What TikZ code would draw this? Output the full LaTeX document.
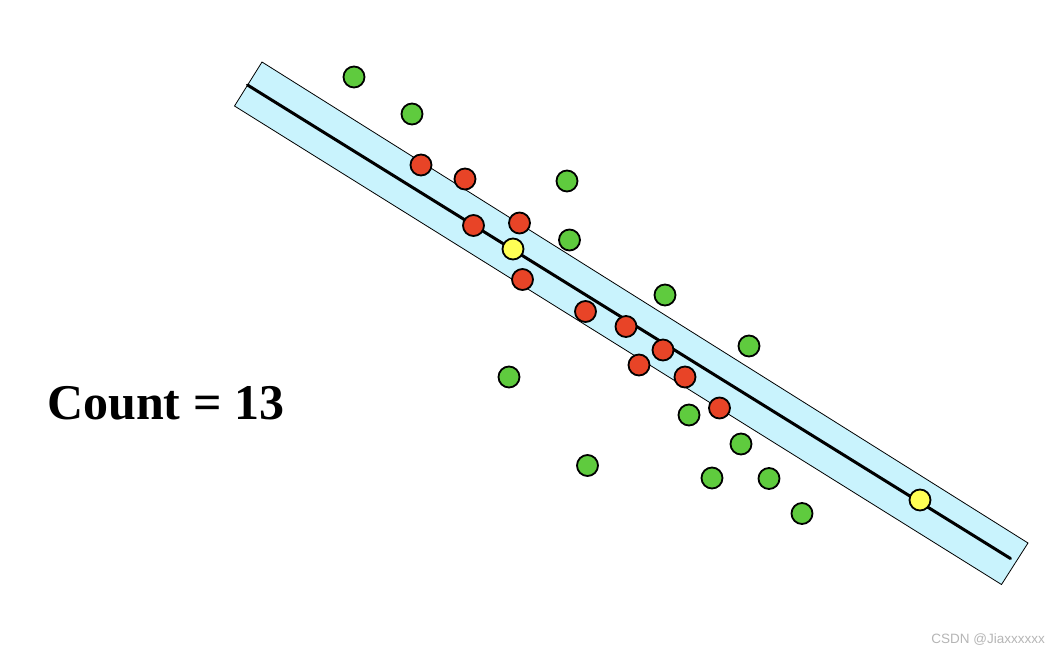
\documentclass[tikz,border=0pt]{standalone}
\usepackage{fontspec}
\setmainfont{Liberation Serif}
\newfontfamily\wmfont{Liberation Sans}
\definecolor{bandblue}{HTML}{C9F3FD}
\definecolor{ptred}{HTML}{E84427}
\definecolor{ptgreen}{HTML}{5FCB3E}
\definecolor{ptyellow}{HTML}{FFFF55}
\definecolor{wmgray}{HTML}{B5B5B5}
\tikzset{
  pt/.style={circle, draw=black, line width=1.8pt, minimum size=21pt, inner sep=0pt},
  gpt/.style={pt, fill=ptgreen},
  rpt/.style={pt, fill=ptred},
  ypt/.style={pt, fill=ptyellow},
}
\begin{document}
\begin{tikzpicture}[x=1pt,y=-1pt]
\useasboundingbox (0,0) rectangle (1060,654);
% band
\coordinate (A) at (262,62);
\coordinate (B) at (234.5,106);
\coordinate (C) at (1001.5,584.5);
\coordinate (D) at (1028,543);
\draw[fill=bandblue, draw=black, line width=0.8pt] (A) -- (B) -- (C) -- (D) -- cycle;
\coordinate (l1) at (247.5,85);
\coordinate (l2) at (1010.5,558.5);
\draw[line width=3pt, line cap=round] (l1) -- (l2);
% green points
\node[gpt] (g1) at (354,77) {};
\node[gpt] (g2) at (412,114) {};
\node[gpt] (g3) at (567,181) {};
\node[gpt] (g4) at (569.5,240) {};
\node[gpt] (g5) at (665,295) {};
\node[gpt] (g6) at (749,346) {};
\node[gpt] (g7) at (509,377) {};
\node[gpt] (g8) at (689,415) {};
\node[gpt] (g9) at (741,444) {};
\node[gpt] (g10) at (587.5,465.5) {};
\node[gpt] (g11) at (712,478) {};
\node[gpt] (g12) at (769,478.5) {};
\node[gpt] (g13) at (802,513.5) {};
% red points
\node[rpt] (r1) at (421,165) {};
\node[rpt] (r2) at (465,179) {};
\node[rpt] (r3) at (473.5,225.5) {};
\node[rpt] (r4) at (519.5,223) {};
\node[rpt] (r5) at (522.5,279.5) {};
\node[rpt] (r6) at (585.5,311.5) {};
\node[rpt] (r7) at (626,326.5) {};
\node[rpt] (r8) at (663,350) {};
\node[rpt] (r9) at (639,365) {};
\node[rpt] (r10) at (685,377) {};
\node[rpt] (r11) at (719.5,408) {};
% yellow points
\node[ypt] (y1) at (513,249) {};
\node[ypt] (y2) at (920,500) {};
% label
\node[anchor=base west, inner sep=0pt, font=\fontsize{50}{60}\selectfont\bfseries] (count) at (47,419) {Count = 13};
\node[anchor=base east, inner sep=0pt, text=wmgray, font=\wmfont\fontsize{13.5}{16}\selectfont] (wm) at (1045,643) {CSDN @Jiaxxxxxx};
\end{tikzpicture}
\end{document}
